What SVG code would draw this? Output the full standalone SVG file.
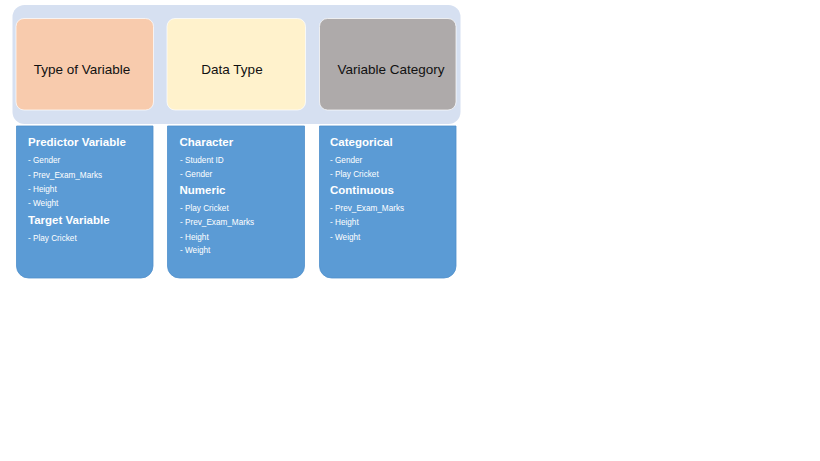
<svg xmlns="http://www.w3.org/2000/svg" width="820" height="461" viewBox="0 0 820 461">
<style>
.top{stroke:#ffffff;stroke-opacity:0.7;stroke-width:1}
.ttl{font-family:"Liberation Sans",Arial,sans-serif;font-size:13.5px;fill:#111111;text-anchor:middle}
.card{fill:#5b9bd5;stroke:#4f8fcb;stroke-width:0.8}
.hd{font-family:"Liberation Sans",Arial,sans-serif;font-size:11.5px;font-weight:bold;fill:#ffffff}
.it{font-family:"Liberation Sans",Arial,sans-serif;font-size:8.2px;fill:#ffffff}
</style>
<rect width="820" height="461" fill="#ffffff"/>
<rect id="background" x="12.5" y="5" width="448" height="119" rx="12" fill="#d6e0f1"/>
<g id="node-type">
<rect class="top" x="16" y="18.5" width="137.5" height="91.5" rx="8" fill="#f8cbad"/>
<text class="ttl" x="82" y="74">Type of Variable</text>
</g>
<g id="node-data">
<rect class="top" x="167" y="18.5" width="138.5" height="91.5" rx="8" fill="#fff2cc"/>
<text class="ttl" x="232" y="74">Data Type</text>
</g>
<g id="node-category">
<rect class="top" x="319.5" y="18.5" width="136.5" height="91.5" rx="8" fill="#aeaaaa"/>
<text class="ttl" x="391" y="74">Variable Category</text>
</g>
<g id="card-type">
<path class="card" d="M16.5,126 H153 V266 A12,12 0 0 1 141,278 H28.5 A12,12 0 0 1 16.5,266 Z"/>
<text class="hd" x="28" y="146">Predictor  Variable</text>
<text class="it" x="28" y="163">- Gender</text>
<text class="it" x="28" y="177.5">- Prev_Exam_Marks</text>
<text class="it" x="28" y="192">- Height</text>
<text class="it" x="28" y="206">- Weight</text>
<text class="hd" x="28" y="224">Target  Variable</text>
<text class="it" x="28" y="241">- Play Cricket</text>
</g>
<g id="card-data">
<path class="card" d="M167.5,126 H304.5 V266 A12,12 0 0 1 292.5,278 H179.5 A12,12 0 0 1 167.5,266 Z"/>
<text class="hd" x="179.5" y="146">Character</text>
<text class="it" x="180" y="163">- Student ID</text>
<text class="it" x="180" y="176.5">- Gender</text>
<text class="hd" x="179.5" y="194">Numeric</text>
<text class="it" x="180" y="211">- Play Cricket</text>
<text class="it" x="180" y="225">- Prev_Exam_Marks</text>
<text class="it" x="180" y="239.5">- Height</text>
<text class="it" x="180" y="253">- Weight</text>
</g>
<g id="card-category">
<path class="card" d="M319.5,126 H456 V266 A12,12 0 0 1 444,278 H331.5 A12,12 0 0 1 319.5,266 Z"/>
<text class="hd" x="330" y="146">Categorical</text>
<text class="it" x="330" y="163">- Gender</text>
<text class="it" x="330" y="176.5">- Play Cricket</text>
<text class="hd" x="330" y="194">Continuous</text>
<text class="it" x="330" y="211">- Prev_Exam_Marks</text>
<text class="it" x="330" y="225">- Height</text>
<text class="it" x="330" y="239.5">- Weight</text>
</g>
<g id="connectors"></g>
</svg>
